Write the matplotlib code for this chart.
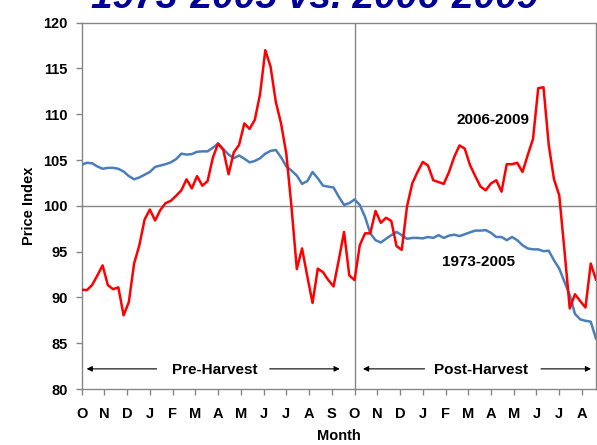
import numpy as np
from matplotlib import pyplot as plt
import matplotlib
matplotlib.use('Agg')

plt.rcParams['font.family'] = ['Liberation Sans', 'DejaVu Sans']

# weekly price index, week 0 = start of October
avg_1973_2005 = [104.5, 104.7, 104.65, 104.3, 104.05, 104.15, 104.15, 104.05, 103.75, 103.25,
                 102.9, 103.1, 103.4, 103.7, 104.25, 104.4, 104.55, 104.75, 105.1, 105.7,
                 105.6, 105.65, 105.9, 105.95, 105.95, 106.35, 106.8, 106.2, 105.6, 105.2,
                 105.5, 105.15, 104.75, 104.9, 105.2, 105.7, 106.0, 106.1, 105.3, 104.3,
                 103.85, 103.3, 102.4, 102.7, 103.7, 103.0, 102.2, 102.1, 102.0, 101.0,
                 100.1, 100.3, 100.7, 100.1, 98.8, 97.0, 96.25, 96.0, 96.4, 96.8,
                 97.15, 96.8, 96.4, 96.5, 96.5, 96.45, 96.6, 96.5, 96.8, 96.5,
                 96.75, 96.85, 96.7, 96.9, 97.1, 97.3, 97.3, 97.35, 97.05, 96.6,
                 96.6, 96.25, 96.6, 96.25, 95.7, 95.35, 95.25, 95.25, 95.05, 95.1,
                 94.05, 93.15, 91.7, 90.25, 88.2, 87.6, 87.45, 87.35, 85.5]

avg_2006_2009 = [90.85, 90.8, 91.35, 92.4, 93.5, 91.35, 90.9, 91.1, 88.05, 89.5,
                 93.7, 95.7, 98.5, 99.6, 98.4, 99.55, 100.3, 100.55, 101.1, 101.7,
                 102.9, 101.9, 103.25, 102.2, 102.7, 105.25, 106.8, 106.1, 103.45, 105.85,
                 106.65, 109.0, 108.4, 109.4, 112.2, 117.0, 115.2, 111.35, 109.0, 105.7,
                 99.8, 93.1, 95.35, 92.3, 89.4, 93.15, 92.75, 91.9, 91.2, 94.1,
                 97.15, 92.4, 91.9, 95.7, 97.0, 97.0, 99.45, 98.15, 98.7, 98.35,
                 95.6, 95.2, 99.95, 102.45, 103.7, 104.8, 104.4, 102.8, 102.6, 102.4,
                 103.7, 105.35, 106.6, 106.25, 104.45, 103.25, 102.1, 101.7, 102.45, 102.8,
                 101.55, 104.55, 104.55, 104.7, 103.7, 105.55, 107.3, 112.85, 112.95, 106.65,
                 102.9, 101.15, 95.1, 88.8, 90.35, 89.6, 88.9, 93.7, 91.95]

month_labels = ['O', 'N', 'D', 'J', 'F', 'M', 'A', 'M', 'J', 'J', 'A', 'S',
                'O', 'N', 'D', 'J', 'F', 'M', 'A', 'M', 'J', 'J', 'A']

weeks = np.arange(len(avg_1973_2005)) * 12 / 52.0

fig = plt.figure(figsize=(5.97, 4.45), dpi=100)
ax = fig.add_axes([0.1367, 0.1258, 0.8616, 0.8232])

gray = '#868686'
ax.axhline(100, color=gray, lw=1.0, zorder=1)
ax.axvline(12, color=gray, lw=1.0, zorder=1)

ax.plot(weeks, avg_1973_2005, color='#4a7ebb', lw=1.8, zorder=3)
ax.plot(weeks, avg_2006_2009, color='#ff0000', lw=1.8, zorder=3)

ax.set_xlim(0, weeks[-1])
ax.set_ylim(80, 120)
ax.set_yticks(range(80, 121, 5))
ax.set_xticks(range(len(month_labels)))
ax.set_xticklabels(month_labels)

for s in ax.spines.values():
    s.set_color(gray)
    s.set_linewidth(1.0)
ax.tick_params(axis='both', colors=gray, labelcolor='black', length=4, width=1.0)
ax.tick_params(axis='x', pad=9)
ax.tick_params(axis='y', pad=6)
for lab in ax.get_xticklabels() + ax.get_yticklabels():
    lab.set_fontweight('bold')
    lab.set_fontsize(10.5)

ax.set_xlabel('Month', fontsize=10.5, fontweight='bold', labelpad=6)
ax.set_ylabel('Price Index', fontsize=10.5, fontweight='bold', labelpad=5)

ax.text(18.07, 109.4, '2006-2009', ha='center', va='center', fontsize=11, fontweight='bold')
ax.text(17.45, 93.9, '1973-2005', ha='center', va='center', fontsize=11, fontweight='bold')

ax.text(5.84, 82.05, 'Pre-Harvest', ha='center', va='center', fontsize=11, fontweight='bold')
ax.text(17.58, 82.05, 'Post-Harvest', ha='center', va='center', fontsize=11, fontweight='bold')

arrow = dict(arrowstyle='-|>', color='black', lw=0.8, mutation_scale=8, shrinkA=0, shrinkB=0)
for x0, x1 in [(3.3, 0.22), (8.27, 11.35), (15.08, 12.37), (20.2, 22.4)]:
    ax.annotate('', xy=(x1, 82.2), xytext=(x0, 82.2), arrowprops=arrow)

fig.text(0.527, 0.983, '1973-2005 vs. 2006-2009', ha='center', va='baseline',
         fontsize=28, fontweight='bold', fontstyle='italic', color='#000099')

fig.savefig('out.png', dpi=100)
